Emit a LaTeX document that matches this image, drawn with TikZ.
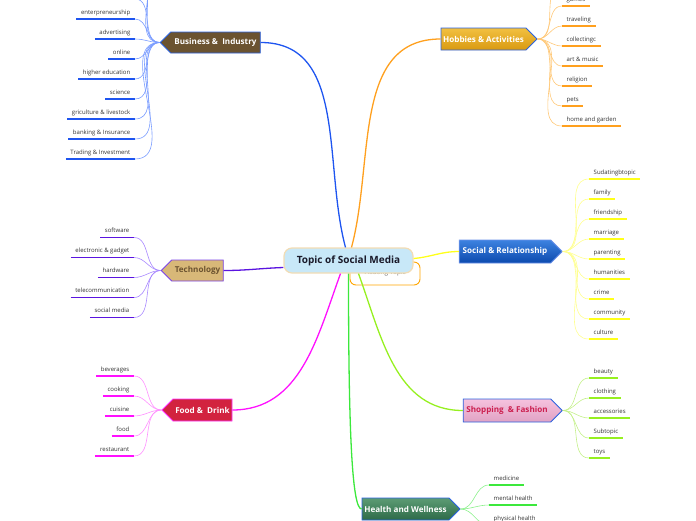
\documentclass[tikz,border=0pt]{standalone}
\usepackage{fontspec}
\setmainfont{Open Sans}
\usetikzlibrary{shapes.symbols}

\definecolor{busfill}{HTML}{6B5330}
\definecolor{busline}{HTML}{1E55F0}
\definecolor{buslight}{HTML}{7A9CFF}
\definecolor{hobline}{HTML}{FFA01E}
\definecolor{hoblight}{HTML}{FFC878}
\definecolor{techfill}{HTML}{D8B878}
\definecolor{techline}{HTML}{5A14E0}
\definecolor{techlight}{HTML}{A888FF}
\definecolor{socline}{HTML}{FFFF1A}
\definecolor{soclight}{HTML}{FFFF90}
\definecolor{foodfill}{HTML}{D2233F}
\definecolor{foodline}{HTML}{FF10FF}
\definecolor{foodlight}{HTML}{FF90FF}
\definecolor{shopline}{HTML}{96F020}
\definecolor{shoplight}{HTML}{C4F08A}
\definecolor{healthline}{HTML}{3CE83C}
\definecolor{healthlight}{HTML}{8AF08A}
\definecolor{edgeblue}{HTML}{2A62E0}

\tikzset{
  sub/.style={font=\fontsize{6}{7}\selectfont, text=black!80, inner xsep=4.5pt,
    inner ysep=3pt, text height=4.5pt, text depth=1.5pt},
  lsub/.style={sub, anchor=south east},
  rsub/.style={sub, anchor=south west},
  bsub/.style={lsub, append after command={(\tikzlastnode.south west) edge[busline, line width=1.4pt] (\tikzlastnode.south east)}},
  hsub/.style={rsub, append after command={(\tikzlastnode.south west) edge[hobline, line width=1.4pt] (\tikzlastnode.south east)}},
  tsub/.style={lsub, append after command={(\tikzlastnode.south west) edge[techline, line width=1.4pt] (\tikzlastnode.south east)}},
  ssub/.style={rsub, append after command={(\tikzlastnode.south west) edge[socline, line width=1.4pt] (\tikzlastnode.south east)}},
  fsub/.style={lsub, append after command={(\tikzlastnode.south west) edge[foodline, line width=1.4pt] (\tikzlastnode.south east)}},
  psub/.style={rsub, append after command={(\tikzlastnode.south west) edge[shopline, line width=1.4pt] (\tikzlastnode.south east)}},
  wsub/.style={rsub, append after command={(\tikzlastnode.south west) edge[healthline, line width=1.4pt] (\tikzlastnode.south east)}},
  branch/.style={signal, signal pointer angle=90, inner sep=0pt, line width=0.8pt,
    font=\bfseries\fontsize{8.1}{9.5}\selectfont},
  main/.style={line width=1.3pt},
  twig/.style={line width=0.6pt}
}

\begin{document}
\begin{tikzpicture}[x=1pt,y=1pt]
    \useasboundingbox (0,-520) rectangle (696,0);
    \clip (0,-520) rectangle (696,0);

    % floating topic, mostly hidden behind the central topic
    \node[draw=orange!70!yellow, line width=0.9pt, fill=white, rounded corners=6pt,
      minimum width=70pt, minimum height=23pt, text=black!60,
      font=\fontsize{6.5}{7}\selectfont] (float) at (385,-273.5) {\raisebox{3.2pt}{Floating Topic}};

    \node[draw={rgb,255:red,242;green,220;blue,180}, line width=1.2pt, fill={rgb,255:red,200;green,232;blue,248},
      rounded corners=8pt, minimum width=129pt, minimum height=25pt, text={rgb,255:red,26;green,26;blue,42},
      font=\bfseries\fontsize{10}{12}\selectfont] (topic) at (348.5,-260.5) {Topic of Social Media};

    % main topics
    \node[branch, signal to=west, fill=busfill, draw=edgeblue, text=white,
      minimum width=100pt, minimum height=21pt] (bus) at (215.5,-42.5) {Business \&\ \ Industry};
    \node[branch, signal to=east, top color={rgb,255:red,242;green,192;blue,64}, bottom color={rgb,255:red,217;green,154;blue,18},
      draw=edgeblue, text=white, minimum width=96pt, minimum height=22pt] (hob) at (483.5,-39) {Hobbies \& Activities};
    \node[branch, signal to=west, fill=techfill, draw=techline!80, text=busfill,
      minimum width=62pt, minimum height=21pt] (tech) at (197.5,-270.5) {Technology};
    \node[branch, signal to=east, top color={rgb,255:red,60;green,130;blue,224}, bottom color={rgb,255:red,12;green,74;blue,174},
      draw=edgeblue!70, text=white, minimum width=103pt, minimum height=23pt] (soc) at (505,-251.5) {Social \& Relationship};
    \node[branch, signal to=west, fill=foodfill, draw=foodline!85, text=white,
      minimum width=70pt, minimum height=22pt] (food) at (202.5,-410) {Food \&\ \ Drink};
    \node[branch, signal to=east, top color={rgb,255:red,246;green,194;blue,222}, bottom color={rgb,255:red,224;green,162;blue,196},
      draw=edgeblue, text={rgb,255:red,204;green,32;blue,80}, minimum width=99pt, minimum height=23pt] (shop) at (507,-410.5) {Shopping\ \ \& Fashion};
    \node[branch, signal to=east, top color={rgb,255:red,92;green,156;blue,116}, bottom color={rgb,255:red,46;green,106;blue,72},
      draw=edgeblue, text=white, minimum width=98pt, minimum height=22pt] (health) at (405.5,-509) {Health and Wellness};

    \draw[busline, main] ([xshift=-3pt]topic.north) to[out=105,in=0] (bus.east);
    \draw[hobline, main] ([xshift=3pt]topic.north) to[out=75,in=180] (hob.west);
    \draw[techline, main] ([yshift=-7pt]topic.west) to[out=182,in=0] (tech.east);
    \draw[socline, main] ([yshift=2pt]topic.east) to[out=5,in=180] (soc.west);
    \draw[foodline, main] ([xshift=-8pt]topic.south) to[out=-110,in=0] (food.east);
    \draw[healthline, main] (topic.south) .. controls +(0,-150) and +(-10,0) .. (health.west);
    \draw[shopline, main] ([xshift=10pt]topic.south) to[out=-70,in=180] (shop.west);

    % business
    \coordinate (bx1) at (135,41);
    \coordinate (bx2) at (135,21);
    \coordinate (bx3) at (135,1);
    \node[bsub] (b1) at (135,-19) {enterpreneurship};
    \node[bsub] (b2) at (135,-39) {advertising};
    \node[bsub] (b3) at (135,-59) {online};
    \node[bsub] (b4) at (135,-79) {higher education};
    \node[bsub] (b5) at (135,-99) {science};
    \node[bsub] (b6) at (135,-119) {griculture \& livestock};
    \node[bsub] (b7) at (135,-139) {banking \& Insurance};
    \node[bsub] (b8) at (135,-159) {Trading \& Investment};
    \draw[buslight, twig] (bus.west) to[out=180,in=0] (bx1);
    \draw[buslight, twig] (bus.west) to[out=180,in=0] (bx2);
    \draw[buslight, twig] (bus.west) to[out=180,in=0] (bx3);
    \draw[buslight, twig] (bus.west) to[out=180,in=0] (b1.south east);
    \draw[buslight, twig] (bus.west) to[out=180,in=0] (b2.south east);
    \draw[buslight, twig] (bus.west) to[out=180,in=0] (b3.south east);
    \draw[buslight, twig] (bus.west) to[out=180,in=0] (b4.south east);
    \draw[buslight, twig] (bus.west) to[out=180,in=0] (b5.south east);
    \draw[buslight, twig] (bus.west) to[out=180,in=0] (b6.south east);
    \draw[buslight, twig] (bus.west) to[out=180,in=0] (b7.south east);
    \draw[buslight, twig] (bus.west) to[out=180,in=0] (b8.south east);

    % hobbies
    \coordinate (hx1) at (562,14);
    \node[hsub] (h1) at (562,-6) {games};
    \node[hsub] (h2) at (562,-26) {traveling};
    \node[hsub] (h3) at (562,-46) {collectingc};
    \node[hsub] (h4) at (562,-66) {art \& music};
    \node[hsub] (h5) at (562,-86) {religion};
    \node[hsub] (h6) at (562,-106) {pets};
    \node[hsub] (h7) at (562,-126) {home and garden};
    \draw[hoblight, twig] (hob.east) to[out=0,in=180] (hx1);
    \draw[hoblight, twig] (hob.east) to[out=0,in=180] (h1.south west);
    \draw[hoblight, twig] (hob.east) to[out=0,in=180] (h2.south west);
    \draw[hoblight, twig] (hob.east) to[out=0,in=180] (h3.south west);
    \draw[hoblight, twig] (hob.east) to[out=0,in=180] (h4.south west);
    \draw[hoblight, twig] (hob.east) to[out=0,in=180] (h5.south west);
    \draw[hoblight, twig] (hob.east) to[out=0,in=180] (h6.south west);
    \draw[hoblight, twig] (hob.east) to[out=0,in=180] (h7.south west);

    % technology
    \node[tsub] (t1) at (134,-237.5) {software};
    \node[tsub] (t2) at (134,-257.5) {electronic \& gadget};
    \node[tsub] (t3) at (134,-277.5) {hardware};
    \node[tsub] (t4) at (134,-297.5) {telecommunication};
    \node[tsub] (t5) at (134,-317.5) {social media};
    \draw[techlight, twig] (tech.west) to[out=180,in=0] (t1.south east);
    \draw[techlight, twig] (tech.west) to[out=180,in=0] (t2.south east);
    \draw[techlight, twig] (tech.west) to[out=180,in=0] (t3.south east);
    \draw[techlight, twig] (tech.west) to[out=180,in=0] (t4.south east);
    \draw[techlight, twig] (tech.west) to[out=180,in=0] (t5.south east);

    % social
    \node[ssub] (s1) at (589,-179) {Sudatingbtopic};
    \node[ssub] (s2) at (589,-199) {family};
    \node[ssub] (s3) at (589,-219) {friendship};
    \node[ssub] (s4) at (589,-239) {marriage};
    \node[ssub] (s5) at (589,-259) {parenting};
    \node[ssub] (s6) at (589,-279) {humanities};
    \node[ssub] (s7) at (589,-299) {crime};
    \node[ssub] (s8) at (589,-319) {community};
    \node[ssub] (s9) at (589,-339) {culture};
    \draw[soclight, twig] (soc.east) to[out=0,in=180] (s1.south west);
    \draw[soclight, twig] (soc.east) to[out=0,in=180] (s2.south west);
    \draw[soclight, twig] (soc.east) to[out=0,in=180] (s3.south west);
    \draw[soclight, twig] (soc.east) to[out=0,in=180] (s4.south west);
    \draw[soclight, twig] (soc.east) to[out=0,in=180] (s5.south west);
    \draw[soclight, twig] (soc.east) to[out=0,in=180] (s6.south west);
    \draw[soclight, twig] (soc.east) to[out=0,in=180] (s7.south west);
    \draw[soclight, twig] (soc.east) to[out=0,in=180] (s8.south west);
    \draw[soclight, twig] (soc.east) to[out=0,in=180] (s9.south west);

    % food
    \node[fsub] (f1) at (134,-376) {beverages};
    \node[fsub] (f2) at (134,-396) {cooking};
    \node[fsub] (f3) at (134,-416) {cuisine};
    \node[fsub] (f4) at (134,-436) {food};
    \node[fsub] (f5) at (134,-456) {restaurant};
    \draw[foodlight, twig] (food.west) to[out=180,in=0] (f1.south east);
    \draw[foodlight, twig] (food.west) to[out=180,in=0] (f2.south east);
    \draw[foodlight, twig] (food.west) to[out=180,in=0] (f3.south east);
    \draw[foodlight, twig] (food.west) to[out=180,in=0] (f4.south east);
    \draw[foodlight, twig] (food.west) to[out=180,in=0] (f5.south east);

    % shopping
    \node[psub] (p1) at (589,-378) {beauty};
    \node[psub] (p2) at (589,-398) {clothing};
    \node[psub] (p3) at (589,-418) {accessories};
    \node[psub] (p4) at (589,-438) {Subtopic};
    \node[psub] (p5) at (589,-458) {toys};
    \draw[shoplight, twig] (shop.east) to[out=0,in=180] (p1.south west);
    \draw[shoplight, twig] (shop.east) to[out=0,in=180] (p2.south west);
    \draw[shoplight, twig] (shop.east) to[out=0,in=180] (p3.south west);
    \draw[shoplight, twig] (shop.east) to[out=0,in=180] (p4.south west);
    \draw[shoplight, twig] (shop.east) to[out=0,in=180] (p5.south west);

    % health
    \node[wsub] (w1) at (489,-485) {medicine};
    \node[wsub] (w2) at (489,-505) {mental health};
    \node[wsub] (w3) at (489,-525) {physical health};
    \draw[healthlight, twig] (health.east) to[out=0,in=180] (w1.south west);
    \draw[healthlight, twig] (health.east) to[out=0,in=180] (w2.south west);
    \draw[healthlight, twig] (health.east) to[out=0,in=180] (w3.south west);
\end{tikzpicture}
\end{document}
